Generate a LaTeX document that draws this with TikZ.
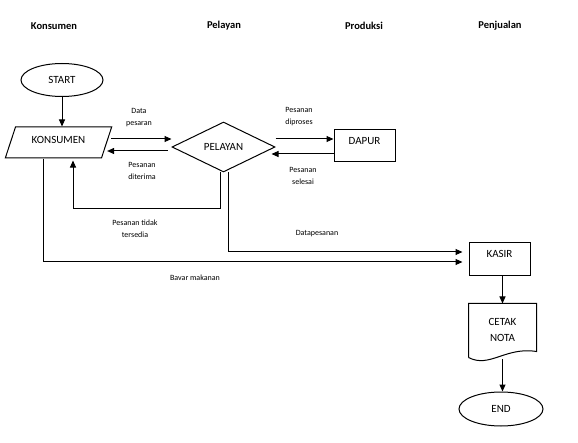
\documentclass[tikz,border=0pt]{standalone}
\usepackage{fontspec}
\setmainfont{Carlito}
\usetikzlibrary{positioning}
\usetikzlibrary{shapes.geometric}
\usetikzlibrary{arrows.meta}
\usetikzlibrary{calc}

\begin{document}
\begin{tikzpicture}[x=1pt,y=-1pt,line width=1pt,
        arr/.style={-{Triangle[length=7pt,width=6pt]}},
        lane/.style={font=\fontsize{10.5}{12}\selectfont\bfseries},
        lbl/.style={font=\fontsize{8}{12}\selectfont,align=center},
        txt/.style={font=\fontsize{11}{16}\selectfont,align=center,inner sep=0pt},
        terminal/.style={txt,draw,ellipse},
        boxstep/.style={txt,draw,rectangle,text height=7pt,text depth=10pt}]
        \useasboundingbox (0,0) rectangle (578,443);
        %\node[lane] at (289,10) {Flowchart};
        \node[lane] (tkons) at (54,26) {Konsumen};
        \node[lane] (tpel) at (224,26) {Pelayan};
        \node[lane] (tprod) at (364,26) {Produksi};
        \node[lane] (tjual) at (500,26) {Penjualan};

        \node[terminal,minimum width=82pt,minimum height=33pt] (start) at (62,80) {START};
        \node[txt,draw,trapezium,trapezium left angle=60,trapezium right angle=120,
            trapezium stretches=true,minimum width=107pt,minimum height=31pt,
            text height=7pt,text depth=4pt] (kons) at (58.5,142.5) {KONSUMEN};
        \node[txt,draw,diamond,aspect=2,minimum width=103pt,minimum height=50pt] (pel) at (223.5,147) {PELAYAN};
        \node[boxstep,minimum width=61pt,minimum height=32pt] (dapur) at (364.5,146) {DAPUR};
        \node[boxstep,minimum width=61pt,minimum height=33pt] (kasir) at (499.5,259.5) {KASIR};
        \node[txt,minimum width=67pt,minimum height=49pt] (nota) at (502.5,329.5) {CETAK\\NOTA};
        \node[terminal,minimum width=84pt,minimum height=34pt] (end) at (501,409) {END};

        % document shape
        \draw ($(nota.south west)+(0,3)$) -- ($(nota.north west)+(0,-1)$) -- ($(nota.north east)+(0,-1)$)
            -- ($(nota.south east)+(0,-3)$) .. controls ($(nota.south east)+(-31,-8)$) and ($(nota.south west)+(21,14)$) .. ($(nota.south west)+(0,3)$);

        \draw[arr] (start) -- (start |- kons.north);
        \draw[arr] ($(kons.east)+(4,-3.5)$) -- ($(pel.west)+(0,-8)$);
        \draw[arr] ($(pel.west)+(-4,4)$) -- ($(kons.east)+(0,8.5)$);
        \draw[arr] ($(pel.east)+(0,-8)$) -- ($(dapur.west)+(0,-7)$);
        \draw[arr] ($(dapur.west)+(0,8)$) -- ($(pel.east)+(-4,7)$);
        \draw[arr] ($(pel.south)+(-3.5,0)$) -- ++(0,36) -| ($(kons.south)+(14.5,2)$);
        \draw[arr] ($(pel.south)+(4.5,0)$) |- ($(kasir.west)+(-6,-7.5)$);
        \draw[arr] ($(kons.south)+(-15.5,0)$) |- ($(kasir.west)+(-6,2.5)$);
        \draw[arr] (kasir.south -| nota.north) -- ($(nota.north)+(0,-1)$);
        \draw[arr] ($(nota.south)+(0,5)$) -- (end.north -| nota.south);

        \node[lbl] (ldata) at (139,118) {Data\\pesaran};
        \node[lbl] (lterima) at (142,170.5) {Pesanan\\diterima};
        \node[lbl] (lproses) at (299,117) {Pesanan\\diproses};
        \node[lbl] (lselesai) at (303,175.5) {Pesanan\\selesai};
        \node[lbl] (ltidak) at (135,229) {Pesanan tidak\\tersedia};
        \node[lbl] (ldatapes) at (317,234) {Datapesanan};
        \node[lbl] (lbayar) at (195,277.5) {Bavar makanan};
    \end{tikzpicture}
\end{document}
